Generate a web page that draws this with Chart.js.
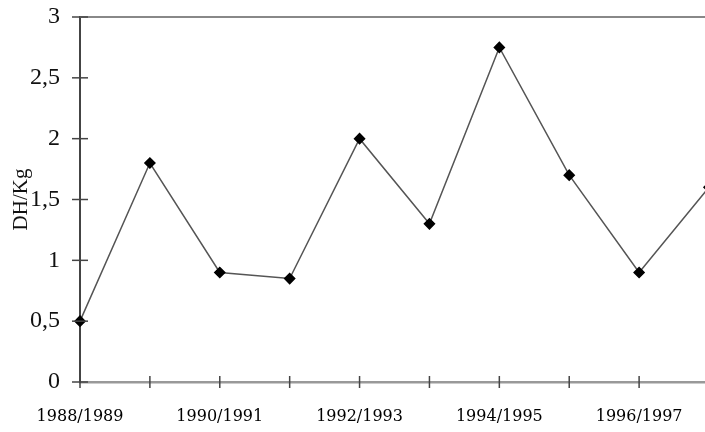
<!DOCTYPE html>
<html lang="fr">
<head>
    <meta charset="UTF-8">
    <title>DH/Kg</title>
    <script src="https://cdn.jsdelivr.net/npm/chart.js"></script>
    <style>
        html, body { margin: 0; padding: 0; background: #fff; overflow: hidden; }
        .chart-container { position: relative; width: 726px; height: 432px; }
    </style>
</head>
<body>
    <div class="chart-container">
        <canvas id="prixChart"></canvas>
    </div>

    <script>
        const campagnes = ['1988/1989', '1989/1990', '1990/1991', '1991/1992', '1992/1993',
                           '1993/1994', '1994/1995', '1995/1996', '1996/1997', '1997/1998'];
        const prix = [0.5, 1.8, 0.9, 0.85, 2.0, 1.3, 2.75, 1.7, 0.9, 1.6];
        const yTicks = [0, 0.5, 1, 1.5, 2, 2.5, 3];

        // petits traits qui traversent les axes + ligne du haut
        const axisMarks = {
            id: 'axisMarks',
            afterDraw(chart) {
                const c = chart.ctx, a = chart.chartArea;
                const xs = chart.scales.x, ys = chart.scales.y;
                c.save();
                c.strokeStyle = '#888';
                c.lineWidth = 2;
                c.beginPath();
                c.moveTo(a.left, a.top);
                c.lineTo(chart.width, a.top);
                c.stroke();
                c.strokeStyle = '#444';
                c.lineWidth = 1.5;
                yTicks.forEach(v => {
                    const y = ys.getPixelForValue(v);
                    c.beginPath();
                    c.moveTo(a.left - 8, y);
                    c.lineTo(a.left + 8, y);
                    c.stroke();
                });
                campagnes.forEach((_, i) => {
                    const x = xs.getPixelForValue(i);
                    c.beginPath();
                    c.moveTo(x, a.bottom - 6);
                    c.lineTo(x, a.bottom + 6);
                    c.stroke();
                });
                c.restore();
            }
        };

        new Chart(document.getElementById('prixChart'), {
            type: 'line',
            data: {
                labels: campagnes,
                datasets: [{
                    data: prix,
                    borderColor: '#555',
                    borderWidth: 1.5,
                    pointStyle: 'rectRot',
                    pointRadius: 5,
                    pointBackgroundColor: '#000',
                    pointBorderColor: '#000',
                    tension: 0
                }]
            },
            options: {
                responsive: true,
                maintainAspectRatio: false,
                animation: false,
                layout: { padding: { top: 17, right: 4, left: 0, bottom: 0 } },
                plugins: { legend: { display: false }, tooltip: { enabled: false } },
                scales: {
                    x: {
                        offset: false,
                        grid: { display: false },
                        border: { display: true, color: '#999', width: 2.5 },
                        ticks: {
                            autoSkip: false,
                            maxRotation: 0,
                            padding: 17,
                            color: '#000',
                            font: { family: 'DejaVu Serif', size: 16 },
                            callback: (v, i) => i % 2 === 0 ? campagnes[i] : ''
                        },
                        afterFit: s => { s.height = 50; }
                    },
                    y: {
                        min: 0,
                        max: 3,
                        grid: { display: false },
                        border: { display: true, color: '#444', width: 2 },
                        afterBuildTicks: s => { s.ticks = yTicks.map(v => ({ value: v })); },
                        ticks: {
                            padding: 12,
                            color: '#111',
                            font: { family: 'Liberation Serif', size: 24 },
                            callback: v => String(v).replace('.', ',')
                        },
                        title: {
                            display: true,
                            text: 'DH/Kg',
                            color: '#111',
                            padding: { top: 9, bottom: 0 },
                            font: { family: 'Liberation Serif', size: 21 }
                        },
                        afterFit: s => { s.width = 80; s.paddingTop = 0; s.paddingBottom = 0; }
                    }
                }
            },
            plugins: [axisMarks]
        });
    </script>
</body>
</html>
